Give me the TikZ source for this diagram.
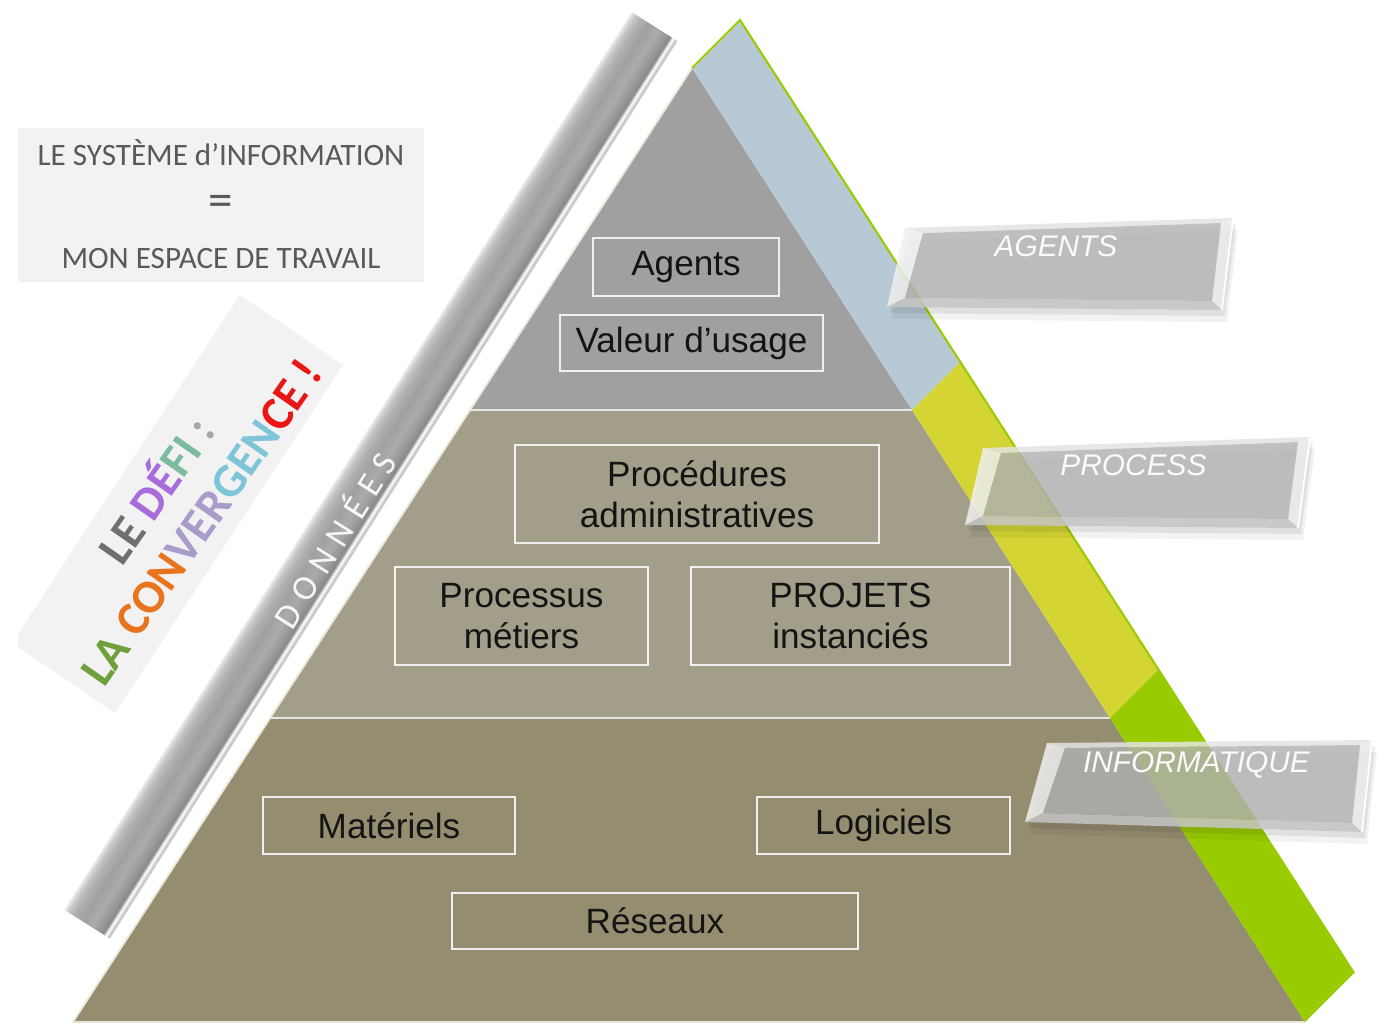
\documentclass[tikz,border=0pt]{standalone}
\usepackage{fontspec}
\setmainfont{Liberation Sans}
\newfontfamily\calibri{Carlito}
\newfontfamily\donneesfont[LetterSpace=28]{Carlito}
\usepackage{tikz}
\usetikzlibrary{calc}

\definecolor{tiertop}{HTML}{A0A0A0}
\definecolor{tiermid}{HTML}{A29E8A}
\definecolor{tierlow}{HTML}{958D6F}
\definecolor{bandblue}{HTML}{B7C9D5}
\definecolor{bandyellow}{HTML}{D4D534}
\definecolor{bandgreen}{HTML}{99CC00}
\definecolor{panelgrey}{HTML}{F2F2F2}
\definecolor{titletext}{HTML}{595959}
\definecolor{defigrey}{HTML}{6F6F6F}
\definecolor{defipurple}{HTML}{A86CDD}
\definecolor{defiteal}{HTML}{7DBB9E}
\definecolor{defidots}{HTML}{A6A6A6}
\definecolor{convgreen}{HTML}{6FA03C}
\definecolor{convorange}{HTML}{E8741E}
\definecolor{convlilac}{HTML}{A99CCB}
\definecolor{convblue}{HTML}{7EC5D7}
\definecolor{convred}{HTML}{EA1616}
\definecolor{tabgrey}{HTML}{B4B4B4}
\definecolor{edgecream}{HTML}{EAE7D8}

% metal profile across the data bar (inner side at 25bp, outer side at 75bp)
\pgfdeclareverticalshading{silverbar}{100bp}{color(0bp)=(white); color(25bp)=(black!10);
  color(27bp)=(black!24); color(30bp)=(white); color(33bp)=(black!46); color(39bp)=(black!39);
  color(46bp)=(black!33); color(56bp)=(black!37); color(65bp)=(black!31); color(71bp)=(black!22);
  color(75bp)=(black!9); color(100bp)=(white)}

% bevelled glass tab: name, top-left, top-right, bottom-right, bottom-left, label
\newcommand{\glasstab}[6]{%
  \coordinate (#1-tl) at (#2);
  \coordinate (#1-tr) at (#3);
  \coordinate (#1-br) at (#4);
  \coordinate (#1-bl) at (#5);
  \coordinate (#1-itl) at ($(#1-tl)+(18,5)$);
  \coordinate (#1-itr) at ($(#1-tr)+(-12,5)$);
  \coordinate (#1-ibr) at ($(#1-br)+(-10,-9)$);
  \coordinate (#1-ibl) at ($(#1-bl)+(18,-9)$);
  % soft shadow
  \fill[black, opacity=0.05] ($(#1-tl)+(5,12)$) -- ($(#1-tr)+(5,12)$) -- ($(#1-br)+(5,12)$) -- ($(#1-bl)+(5,12)$) -- cycle;
  \fill[black, opacity=0.07] ($(#1-tl)+(3,6)$) -- ($(#1-tr)+(3,6)$) -- ($(#1-br)+(3,6)$) -- ($(#1-bl)+(3,6)$) -- cycle;
  % bevel faces
  \fill[white!88!gray, fill opacity=0.85] (#1-tl) -- (#1-itl) -- (#1-ibl) -- (#1-bl) -- cycle;
  \fill[white!78!gray, fill opacity=0.85] (#1-tl) -- (#1-tr) -- (#1-itr) -- (#1-itl) -- cycle;
  \fill[white!84!gray, fill opacity=0.85] (#1-tr) -- (#1-br) -- (#1-ibr) -- (#1-itr) -- cycle;
  \fill[white!55!gray, fill opacity=0.85] (#1-bl) -- (#1-ibl) -- (#1-ibr) -- (#1-br) -- cycle;
  \fill[tabgrey, fill opacity=0.8] (#1-itl) -- (#1-itr) -- (#1-ibr) -- (#1-ibl) -- cycle;
  \draw[white, line width=1pt] (#1-tr) -- (#1-br);
  \node[tabtext] (#1) at ($(#1-tl)!0.5!(#1-tr)+(-13,23)$) {#6};
}

\begin{document}
\begin{tikzpicture}[
  x=0.02cm, y=-0.02cm,
  cell/.style={draw=white!88!gray, line width=0.9pt, inner sep=0pt, align=center, text=black!92, font=\fontsize{20}{23.5}\selectfont},
  tiersep/.style={draw=white!80!gray, line width=1.4pt},
  tabtext/.style={text=white!97!gray, font=\itshape\fontsize{17}{20}\selectfont}
]
  \useasboundingbox (0,0) rectangle (1384,1031);
  \fill[white] (0,0) rectangle (1384,1031);

  % title panel
  \fill[panelgrey] (18,128) rectangle (424,282);
  \node[font=\calibri\fontsize{17.7}{29.5}\selectfont, text=titletext, align=center] (sysinfo) at (221,204)
    {LE SYSTÈME d’INFORMATION\\{\fontsize{28}{29.5}\selectfont=}\\MON ESPACE DE TRAVAIL};

  % tilted challenge panel
  \fill[panelgrey] (240,295) -- (343,365) -- (115,713) -- (18,647) -- (18,634) -- cycle;
  \node[rotate=55, align=center, font=\calibri\bfseries\fontsize{27}{31}\selectfont] (defi) at (176,504)
    {{\color{defigrey}LE} {\color{defipurple}DÉ}{\color{defiteal}FI} {\color{defidots}:}\\
     {\color{convgreen}LA} {\color{convorange}CON}{\color{convlilac}VER}{\color{convblue}GEN}{\color{convred}CE !}};

  % data bar along the left side
  \begin{scope}[transform canvas={shift={(371,475.5)}, rotate=57.7}]
    \shade[shading=silverbar] (-531,-27) rectangle (531,27);
  \end{scope}
  \node[rotate=57.7, text=white!94!gray, font=\donneesfont\fontsize{20}{22}\selectfont] (donnees) at (333,539) {DONNÉES};

  % pyramid
  \coordinate (apex) at (692,68);
  \coordinate (t1L) at (470,410);
  \coordinate (t1R) at (912,410);
  \coordinate (t2L) at (270,718);
  \coordinate (t2R) at (1110,718);
  \coordinate (baseL) at (73,1022);
  \coordinate (baseR) at (1305,1022);
  \fill[tiertop] (apex) -- (t1R) -- (t1L) -- cycle;
  \fill[tiermid] (t1L) -- (t1R) -- (t2R) -- (t2L) -- cycle;
  \fill[tierlow] (t2L) -- (t2R) -- (baseR) -- (baseL) -- cycle;
  \draw[tiersep] (t1L) -- (t1R);
  \draw[tiersep] (t2L) -- (t2R);
  \draw[edgecream, line width=1pt] (apex) -- (baseL) -- (baseR);

  % coloured band on the right side
  \coordinate (capT) at (740,20);
  \coordinate (b1) at (960,362);
  \coordinate (b2) at (1158,670);
  \coordinate (capB) at (1354,973);
  \fill[bandblue] (apex) -- (capT) -- (b1) -- (t1R) -- cycle;
  \fill[bandyellow] (t1R) -- (b1) -- (b2) -- (t2R) -- cycle;
  \fill[bandgreen] (t2R) -- (b2) -- (capB) -- (baseR) -- cycle;
  \draw[bandgreen, line width=1.2pt] (apex) -- (capT) -- (capB);

  % contents of each tier
  \node[cell, minimum width=3.72cm, minimum height=1.16cm] (agents) at (686,267) {Agents};
  \node[cell, minimum width=5.26cm, minimum height=1.12cm] (valeur) at (691.5,343) {Valeur d’usage};
  \node[cell, minimum width=7.28cm, minimum height=1.96cm] (procedures) at (697,494) {Procédures\\administratives};
  \node[cell, minimum width=5.06cm, minimum height=1.96cm] (processus) at (521.5,616) {Processus\\métiers};
  \node[cell, minimum width=6.38cm, minimum height=1.96cm] (projets) at (850.5,616) {PROJETS\\instanciés};
  \node[cell, minimum width=5.04cm, minimum height=1.14cm] (materiels) at (389,825.5) {Matériels};
  \node[cell, minimum width=5.06cm, minimum height=1.14cm] (logiciels) at (883.5,825.5) {Logiciels};
  \node[cell, minimum width=8.12cm, minimum height=1.12cm] (reseaux) at (655,921) {Réseaux};

  % tabs
  \glasstab{agentstab}{905,228}{1233,218}{1222,310}{887,307}{AGENTS}
  \glasstab{processtab}{983,448}{1310,437}{1298,528}{965,525}{PROCESS}
  \glasstab{infotab}{1047,743}{1372,740}{1362,832}{1025,822}{INFORMATIQUE}
\end{tikzpicture}
\end{document}
